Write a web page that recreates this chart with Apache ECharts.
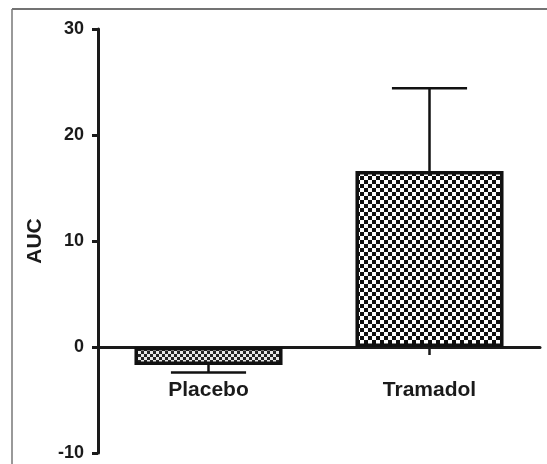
<!DOCTYPE html>
<html>
<head>
<meta charset="utf-8">
<script src="https://cdn.jsdelivr.net/npm/echarts@6/dist/echarts.min.js"></script>
<style>
html,body{margin:0;padding:0;background:#fff;}
#main{width:547px;height:464px;}
</style>
</head>
<body>
<div id="main"></div>
<script>
var categories = ['Placebo', 'Tramadol'];
var means = [-1.7, 16.6];
var errorEnds = [-2.4, 24.4];
var yTicks = [-10, 0, 10, 20, 30];

// checker pattern for bar fill
function checker(size, dark, light){
	var c = document.createElement('canvas');
	c.width = size * 2; c.height = size * 2;
	var ctx = c.getContext('2d');
	ctx.fillStyle = light; ctx.fillRect(0, 0, size * 2, size * 2);
	ctx.fillStyle = dark;
	ctx.fillRect(0, 0, size, size);
	ctx.fillRect(size, size, size, size);
	return c;
}
var fills = [
	{image: checker(3, '#262626', '#e8e8e8'), repeat: 'repeat'},
	{image: checker(4, '#111', '#fff'), repeat: 'repeat'}
];

var font = '"Liberation Sans", Arial, sans-serif';
var chart = echarts.init(document.getElementById('main'));
chart.setOption({
	backgroundColor: '#fff',
	animation: false,
	grid: {left: 98, right: 7, top: 29, bottom: 11, containLabel: false, outerBoundsMode: 'none'},
	graphic: [
		{type: 'line', shape: {x1: 12, y1: 9, x2: 547, y2: 9}, style: {stroke: '#444', lineWidth: 1.5}},
		{type: 'line', shape: {x1: 12, y1: 9, x2: 12, y2: 464}, style: {stroke: '#777', lineWidth: 1.5}}
	],
	xAxis: [
		{
			type: 'category',
			data: categories,
			axisLine: {onZero: true, lineStyle: {color: '#1a1a1a', width: 3}},
			axisTick: {show: true, alignWithLabel: true, length: 8, lineStyle: {color: '#1a1a1a', width: 2.5}},
			axisLabel: {show: false}
		},
		{
			// labels only, lifted up to sit under the zero line
			type: 'category',
			data: categories,
			position: 'bottom',
			offset: -106,
			axisLine: {show: false},
			axisTick: {show: false},
			axisLabel: {margin: 33, color: '#1a1a1a', fontSize: 21, fontWeight: 'bold', fontFamily: font}
		}
	],
	yAxis: {
		type: 'value',
		min: yTicks[0], max: yTicks[yTicks.length - 1], interval: 10,
		name: 'AUC',
		nameLocation: 'middle',
		nameGap: 52,
		nameTextStyle: {color: '#1a1a1a', fontSize: 21, fontWeight: 'bold', fontFamily: font},
		splitLine: {show: false},
		axisLine: {show: true, lineStyle: {color: '#1a1a1a', width: 3}},
		axisTick: {show: true, length: 6, lineStyle: {color: '#1a1a1a', width: 3}},
		axisLabel: {margin: 14, color: '#1a1a1a', fontSize: 18, fontWeight: 'bold', fontFamily: font}
	},
	series: [
		{
			type: 'bar',
			barWidth: '67%',
			data: means.map(function(v, i){
				return {value: v, itemStyle: {color: fills[i]}};
			}),
			itemStyle: {borderColor: '#111', borderWidth: 3.5}
		},
		{
			type: 'custom',
			data: means.map(function(v, i){ return [i, v, errorEnds[i]]; }),
			z: 1,
			renderItem: function(params, api){
				var p0 = api.coord([api.value(0), api.value(1)]);
				var p1 = api.coord([api.value(0), api.value(2)]);
				var half = api.size([1, 0])[0] * 0.17;
				var style = {stroke: '#111', lineWidth: 2.5};
				return {
					type: 'group',
					children: [
						{type: 'line', shape: {x1: p0[0], y1: p0[1], x2: p1[0], y2: p1[1]}, style: style},
						{type: 'line', shape: {x1: p1[0] - half, y1: p1[1], x2: p1[0] + half, y2: p1[1]}, style: style}
					]
				};
			}
		}
	]
});
</script>
</body>
</html>
